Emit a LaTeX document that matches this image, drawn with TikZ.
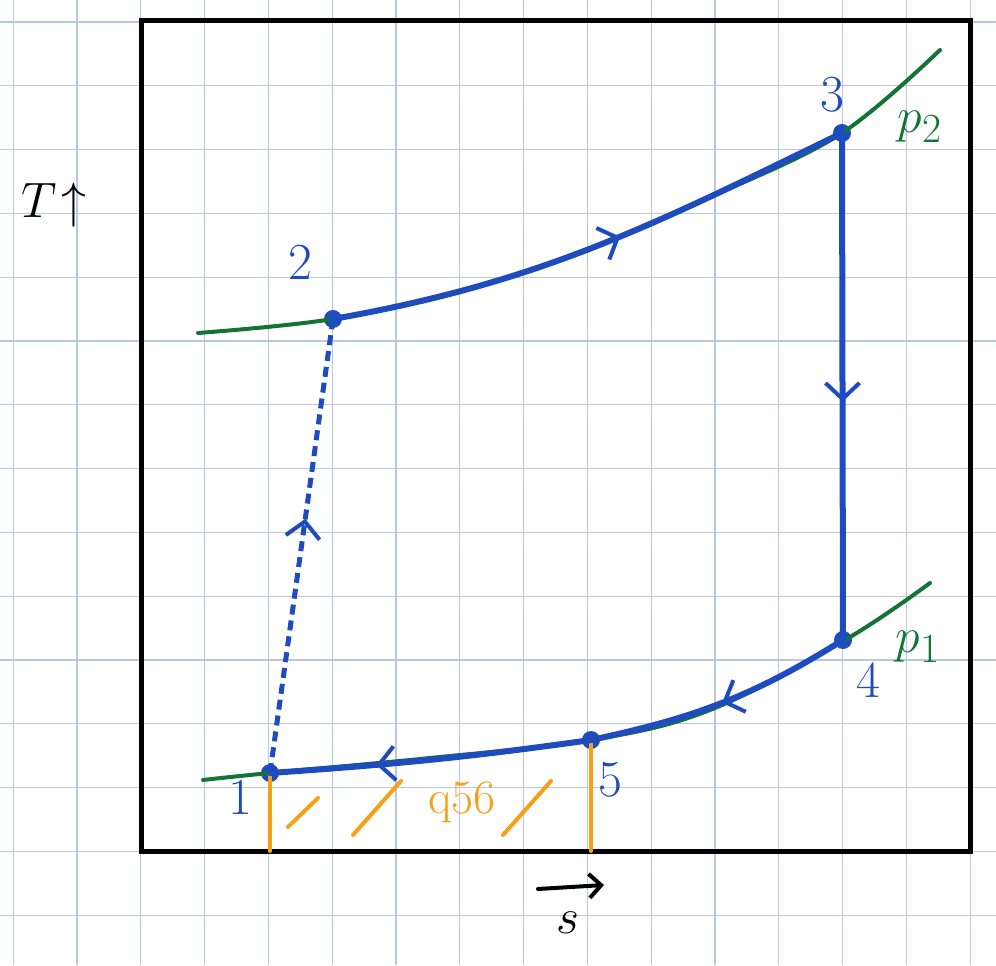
\documentclass[tikz,border=0pt]{standalone}
\usetikzlibrary{arrows.meta,decorations.markings}
\definecolor{CYCLE}{HTML}{1E4BBE}
\definecolor{ISOBAR}{HTML}{147337}
\definecolor{HEAT}{HTML}{F5A015}
\definecolor{GRID}{HTML}{B9C8DC}

\begin{document}
\begin{tikzpicture}[x=0.5pt, y=0.5pt,
	state/.style={circle, fill=CYCLE, inner sep=0pt, minimum size=9pt},
	num/.style={text=CYCLE, font=\fontsize{26}{28}\selectfont},
	cycle/.style={draw=CYCLE, line width=3pt, line cap=round},
	isobar/.style={draw=ISOBAR, line width=2pt, line cap=round},
	heat/.style={draw=HEAT, line width=2pt, line cap=round},
	flow/.style={postaction={decorate}, decoration={markings, mark=at position #1 with {\arrow[line width=2pt]{Straight Barb[length=8pt,width=17pt]}}}}]
	\useasboundingbox[fill=white] (0,0) rectangle (996,965);

	\foreach \i in {0,...,15}
		\draw[GRID, line width=0.6pt] ({13.2+63.8*\i},0) -- ({13.2+63.8*\i},965);
	\foreach \j in {0,...,14}
		\draw[GRID, line width=0.6pt] (0,{943-63.8*\j}) -- (996,{943-63.8*\j});

	\draw[line width=2.5pt] (141,114) rectangle (970,944);
	\coordinate (base) at (141,114);

	\node [state] (n1) at (270,192) {};
	\node [state] (n2) at (333,646) {};
	\node [state] (n3) at (842,832) {};
	\node [state] (n4) at (843,325) {};
	\node [state] (n5) at (591,225) {};

	\draw[isobar] plot[smooth, tension=0.6] coordinates {(198,632) (333,646) (470,676) (600,720) (720,772) (842,832) (940,915)};
	\draw[isobar] plot[smooth, tension=0.6] coordinates {(203,185) (270,192) (430,207) (591,225) (710,255) (845,325) (930,382)};

	\draw[heat] (n1.center) -- (n1 |- base);
	\draw[heat] (n5.center) -- (n5 |- base);
	\draw[heat] (288,138) -- (318,167);
	\draw[heat] (353,130) -- (401,184);
	\draw[heat] (503,130) -- (551,184);
	\node [text=HEAT, font=\fontsize{24}{26}\selectfont] (q) at (462,163) {q56};

	\draw[cycle, flow=0.55] (n2.center) to[out=10, in=206] (n3.center);
	\draw[cycle, flow=0.53] (n3.center) -- (n4.center);
	\draw[cycle, flow=0.5] (n4.center) to[out=212, in=12] (n5.center);
	\draw[cycle, flow=0.67] (n5.center) to[out=188, in=4] (n1.center);
	\draw[cycle, line width=2.5pt, dash pattern=on 5pt off 3pt, line cap=butt, flow=0.56] (n1.center) -- (n2.center);

	\node [num] (l1) at (240,168) {1};
	\node [num] (l2) at (300,703) {2};
	\node [num] (l3) at (832,870) {3};
	\node [num] (l4) at (868,285) {4};
	\node [num] (l5) at (610,185) {5};

	\node [text=ISOBAR, font=\fontsize{30}{32}\selectfont] (pp2) at (920,838) {$p_2$};
	\node [text=ISOBAR, font=\fontsize{30}{32}\selectfont] (pp1) at (918,318) {$p_1$};

	\node [font=\fontsize{44}{46}\selectfont] (T) at (54,760) {$T\!\uparrow$};
	\node [font=\fontsize{46}{48}\selectfont] (s) at (568,42) {$s$};
	\draw[line width=2pt, line cap=round, -{Straight Barb[length=6pt,width=12pt]}] (538,76) -- (604,80);
\end{tikzpicture}
\end{document}
